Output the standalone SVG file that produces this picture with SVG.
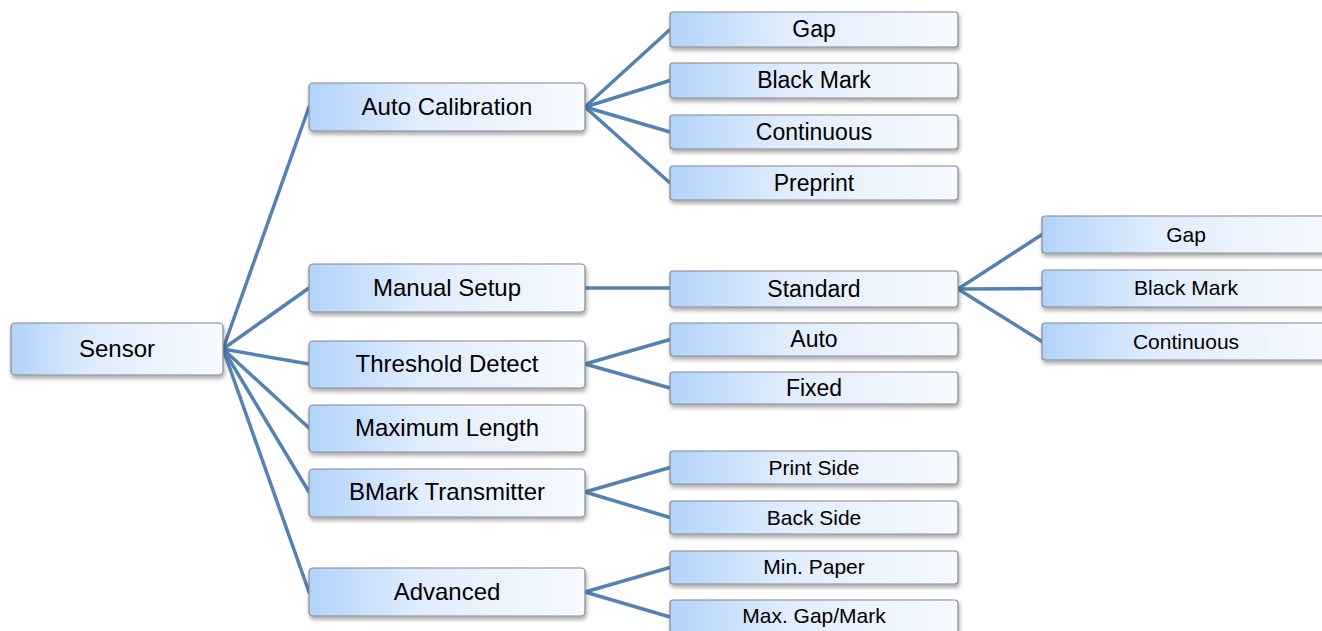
<svg xmlns="http://www.w3.org/2000/svg" width="1322" height="631" viewBox="0 0 1322 631">
<style>
  .box{fill:url(#g);stroke:#868a8f;stroke-width:1.2;filter:url(#sh)}
  .t{font-family:"Liberation Sans",Arial,sans-serif;fill:#000;text-anchor:middle}
  .l{font-size:24px}
  .m{font-size:23px}
  .s{font-size:21px}
  #connectors line{stroke:#5382b3;stroke-width:3.5;stroke-linecap:round}
</style>
<defs>
  <linearGradient id="g" x1="0" y1="0" x2="1" y2="0">
    <stop offset="0" stop-color="#b2d3fa"/>
    <stop offset="0.4" stop-color="#e0edfd"/>
    <stop offset="1" stop-color="#f7faff"/>
  </linearGradient>
  <filter id="sh" x="-10%" y="-20%" width="120%" height="160%">
    <feDropShadow dx="1" dy="3" stdDeviation="2" flood-color="#000" flood-opacity="0.35"/>
  </filter>
</defs>
<rect width="1322" height="631" fill="#fff"/>
<g id="connectors">
  <line x1="223" y1="349" x2="309" y2="107"/>
  <line x1="223" y1="349" x2="309" y2="288"/>
  <line x1="223" y1="349" x2="309" y2="364"/>
  <line x1="223" y1="349" x2="309" y2="428"/>
  <line x1="223" y1="349" x2="309" y2="492"/>
  <line x1="223" y1="349" x2="309" y2="592"/>
  <line x1="585" y1="107" x2="670" y2="29.5"/>
  <line x1="585" y1="107" x2="670" y2="80.5"/>
  <line x1="585" y1="107" x2="670" y2="132"/>
  <line x1="585" y1="107" x2="670" y2="183"/>
  <line x1="585" y1="288" x2="670" y2="288"/>
  <line x1="585" y1="364" x2="670" y2="339.5"/>
  <line x1="585" y1="364" x2="670" y2="388"/>
  <line x1="585" y1="492" x2="670" y2="467.5"/>
  <line x1="585" y1="492" x2="670" y2="517.5"/>
  <line x1="585" y1="592" x2="670" y2="567.5"/>
  <line x1="585" y1="592" x2="670" y2="617"/>
  <line x1="958" y1="289" x2="1042" y2="234.5"/>
  <line x1="958" y1="289" x2="1042" y2="288.5"/>
  <line x1="958" y1="289" x2="1042" y2="341.5"/>
</g>
<g id="n-sensor"><rect class="box" x="11" y="323" width="212" height="52" rx="4"/><text class="t l" x="117" y="357">Sensor</text></g>
<g id="n-autocal"><rect class="box" x="309" y="83" width="276" height="48" rx="4"/><text class="t l" x="447" y="115">Auto Calibration</text></g>
<g id="n-manual"><rect class="box" x="309" y="264" width="276" height="48" rx="4"/><text class="t l" x="447" y="296">Manual Setup</text></g>
<g id="n-threshold"><rect class="box" x="309" y="341" width="276" height="47" rx="4"/><text class="t l" x="447" y="372">Threshold Detect</text></g>
<g id="n-maxlen"><rect class="box" x="309" y="405" width="276" height="47" rx="4"/><text class="t l" x="447" y="436">Maximum Length</text></g>
<g id="n-bmark"><rect class="box" x="309" y="469" width="276" height="48" rx="4"/><text class="t l" x="447" y="500">BMark Transmitter</text></g>
<g id="n-advanced"><rect class="box" x="309" y="568" width="276" height="48" rx="4"/><text class="t l" x="447" y="600">Advanced</text></g>

<g id="n-gap1"><rect class="box" x="670" y="12" width="288" height="35" rx="3"/><text class="t m" x="814" y="37">Gap</text></g>
<g id="n-black1"><rect class="box" x="670" y="63" width="288" height="35" rx="3"/><text class="t m" x="814" y="88">Black Mark</text></g>
<g id="n-cont1"><rect class="box" x="670" y="115" width="288" height="34" rx="3"/><text class="t m" x="814" y="140">Continuous</text></g>
<g id="n-preprint"><rect class="box" x="670" y="166" width="288" height="34" rx="3"/><text class="t m" x="814" y="191">Preprint</text></g>
<g id="n-standard"><rect class="box" x="670" y="271" width="288" height="36" rx="3"/><text class="t m" x="814" y="297">Standard</text></g>
<g id="n-auto"><rect class="box" x="670" y="323" width="288" height="33" rx="3"/><text class="t m" x="814" y="347">Auto</text></g>
<g id="n-fixed"><rect class="box" x="670" y="372" width="288" height="32" rx="3"/><text class="t m" x="814" y="396">Fixed</text></g>
<g id="n-print"><rect class="box" x="670" y="451" width="288" height="33" rx="3"/><text class="t s" x="814" y="475">Print Side</text></g>
<g id="n-back"><rect class="box" x="670" y="501" width="288" height="33" rx="3"/><text class="t s" x="814" y="525">Back Side</text></g>
<g id="n-minpaper"><rect class="box" x="670" y="551" width="288" height="33" rx="3"/><text class="t s" x="814" y="574">Min. Paper</text></g>
<g id="n-maxgap"><rect class="box" x="670" y="600" width="288" height="36" rx="3"/><text class="t s" x="814" y="623">Max. Gap/Mark</text></g>

<g id="n-gap2"><rect class="box" x="1042" y="216" width="290" height="37" rx="3"/><text class="t s" x="1186" y="242">Gap</text></g>
<g id="n-black2"><rect class="box" x="1042" y="270" width="290" height="37" rx="3"/><text class="t s" x="1186" y="295">Black Mark</text></g>
<g id="n-cont2"><rect class="box" x="1042" y="323" width="290" height="37" rx="3"/><text class="t s" x="1186" y="349">Continuous</text></g>
</svg>
